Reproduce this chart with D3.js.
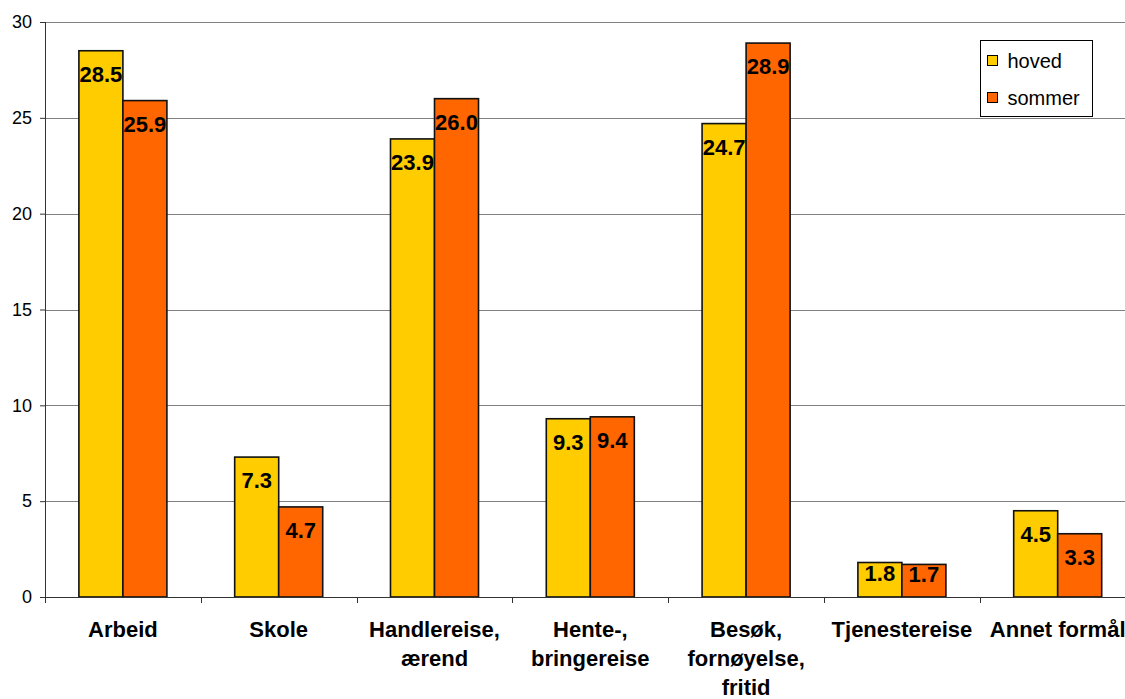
<!DOCTYPE html>
<html>
<head>
<meta charset="utf-8">
<script src="https://cdn.jsdelivr.net/npm/d3@7"></script>
<style>
  html, body { margin: 0; padding: 0; background: #fff; }
  svg { display: block; font-family: "Liberation Sans", Arial, sans-serif; }
</style>
</head>
<body>
<svg id="chart" width="1125" height="699"></svg>
<script>
// Travel purpose shares (%), main season vs. summer
const categories = [
  ["Arbeid"],
  ["Skole"],
  ["Handlereise,", "ærend"],
  ["Hente-,", "bringereise"],
  ["Besøk,", "fornøyelse,", "fritid"],
  ["Tjenestereise"],
  ["Annet formål"]
];
const seriesNames = ["hoved", "sommer"];
const hoved  = [28.5, 7.3, 23.9, 9.3, 24.7, 1.8, 4.5];
const sommer = [25.9, 4.7, 26.0, 9.4, 28.9, 1.7, 3.3];
const yTicks = [0, 5, 10, 15, 20, 25, 30];
const colors = ["#FFCC00", "#FF6600"];

const W = 1125, H = 699;
const plotLeft = 45, plotTop = 22, plotBottom = 597;
const band = 155.8;

const svg = d3.select("#chart");

const keys = categories.map((c, i) => i);
const x = d3.scaleBand().domain(keys).range([plotLeft, plotLeft + band * keys.length]).paddingInner(0).paddingOuter(0);
const xs = d3.scaleBand().domain(seriesNames).range([0, x.bandwidth()]).paddingInner(0).paddingOuter(0.77);
const y = d3.scaleLinear().domain([0, 30]).range([plotBottom, plotTop]);

// horizontal gridlines
svg.append("g")
  .selectAll("line")
  .data(yTicks.filter(t => t > 0))
  .join("line")
  .attr("x1", plotLeft).attr("x2", W)
  .attr("y1", d => Math.round(y(d)) + 0.5).attr("y2", d => Math.round(y(d)) + 0.5)
  .attr("stroke", "#808080").attr("stroke-width", 1.2);

// bars
const rows = keys.map(i => ({ i, values: [hoved[i], sommer[i]] }));
const groups = svg.append("g").selectAll("g")
  .data(rows).join("g")
  .attr("transform", d => `translate(${x(d.i)},0)`);

groups.selectAll("rect")
  .data(d => d.values.map((v, k) => ({ v, k })))
  .join("rect")
  .attr("x", d => xs(seriesNames[d.k]))
  .attr("width", xs.bandwidth())
  .attr("y", d => y(d.v))
  .attr("height", d => y(0) - y(d.v))
  .attr("fill", d => colors[d.k])
  .attr("stroke", "#111")
  .attr("stroke-width", 1.6);

// value labels inside the top of each bar
groups.selectAll("text")
  .data(d => d.values.map((v, k) => ({ v, k })))
  .join("text")
  .attr("x", d => xs(seriesNames[d.k]) + xs.bandwidth() / 2)
  .attr("y", d => {
    const h = y(0) - y(d.v);
    return y(d.v) + Math.min(23, h / 2 - 7);
  })
  .attr("dy", "0.36em")
  .attr("text-anchor", "middle")
  .attr("font-size", 22)
  .attr("font-weight", "bold")
  .attr("fill", "#000")
  .text(d => d3.format(".1f")(d.v));

// y axis
const yAxis = svg.append("g")
  .attr("transform", `translate(${plotLeft},0)`)
  .call(d3.axisLeft(y).tickValues(yTicks).tickSize(5).tickSizeOuter(0).tickPadding(8).tickFormat(d3.format("d")));
yAxis.select(".domain").attr("stroke", "#333").attr("d", `M0.5,${plotTop}V${plotBottom + 6}`);
yAxis.selectAll(".tick line").attr("stroke", "#333");
yAxis.selectAll(".tick text").attr("font-size", 18).attr("fill", "#000")
  .attr("font-family", "'Liberation Sans', Arial, sans-serif");

// x axis line and category boundary ticks
const xAxis = svg.append("g");
xAxis.append("line")
  .attr("x1", plotLeft).attr("x2", W)
  .attr("y1", plotBottom + 0.5).attr("y2", plotBottom + 0.5)
  .attr("stroke", "#333");
xAxis.selectAll("line.tick")
  .data(keys.slice(1))
  .join("line")
  .attr("class", "tick")
  .attr("x1", d => Math.round(x(d)) + 0.5).attr("x2", d => Math.round(x(d)) + 0.5)
  .attr("y1", plotBottom).attr("y2", plotBottom + 6)
  .attr("stroke", "#333");

// category labels
const lineH = 29;
xAxis.selectAll("text.cat")
  .data(keys)
  .join("text")
  .attr("class", "cat")
  .attr("text-anchor", "middle")
  .attr("font-size", 22)
  .attr("font-weight", "bold")
  .attr("fill", "#000")
  .each(function (d) {
    const t = d3.select(this);
    categories[d].forEach((line, j) => {
      t.append("tspan")
        .attr("x", x(d) + x.bandwidth() / 2)
        .attr("y", 637 + j * lineH)
        .text(line);
    });
  });

// legend
const lg = svg.append("g").attr("transform", "translate(980.5,40.5)");
lg.append("rect").attr("width", 112).attr("height", 76)
  .attr("fill", "#fff").attr("stroke", "#000").attr("stroke-width", 1);
seriesNames.forEach((name, k) => {
  const cy = 20 + k * 37;
  lg.append("rect")
    .attr("x", 7).attr("y", cy - 5).attr("width", 10).attr("height", 10)
    .attr("fill", colors[k]).attr("stroke", "#000").attr("stroke-width", 1);
  lg.append("text")
    .attr("x", 27).attr("y", cy).attr("dy", "0.36em")
    .attr("font-size", 20).attr("fill", "#000")
    .text(name);
});
</script>
</body>
</html>
